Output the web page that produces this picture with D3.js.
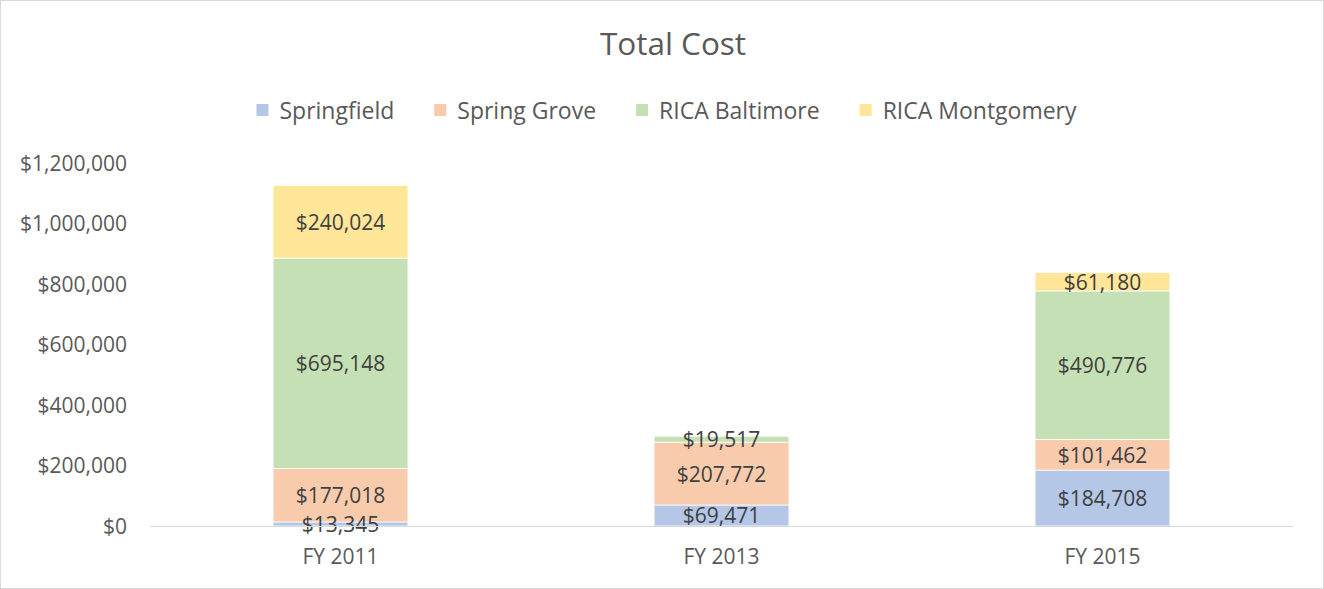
<!DOCTYPE html>
<html><head><meta charset="utf-8">
<script src="https://cdn.jsdelivr.net/npm/d3@7"></script>
<style>body{margin:0;background:#fff}svg{display:block}text{font-family:"Open Sans",sans-serif}</style>
</head><body>
<svg id="c" width="1324" height="589"></svg>
<script>
const categories = ["FY 2011", "FY 2013", "FY 2015"];
const seriesNames = ["Springfield", "Spring Grove", "RICA Baltimore", "RICA Montgomery"];
const springfield = [13345, 69471, 184708];
const springGrove = [177018, 207772, 101462];
const ricaBaltimore = [695148, 19517, 490776];
const ricaMontgomery = [240024, 0, 61180];
const yTicks = [0, 200000, 400000, 600000, 800000, 1000000, 1200000];
const colors = ["#B4C7E7", "#F8CBAD", "#C5E0B4", "#FFE699"];

const seriesValues = [springfield, springGrove, ricaBaltimore, ricaMontgomery];
const rows = categories.map((c, i) => {
  const r = {cat: c};
  seriesNames.forEach((s, j) => r[s] = seriesValues[j][i]);
  return r;
});

const svg = d3.select("#c");
const W = 1324, H = 589;
svg.append("rect").attr("x", 0.5).attr("y", 0.5).attr("width", W - 1).attr("height", H - 1)
  .attr("fill", "#fff").attr("stroke", "#d9d9d9");

const x = d3.scaleBand().domain(categories).range([150, 1293]).paddingInner(0.646).paddingOuter(0.323);
const y = d3.scaleLinear().domain([0, 1200000]).range([526, 163]);

const stack = d3.stack().keys(seriesNames)(rows);
const fmt = v => "$" + d3.format(",")(v);

// bars
const g = svg.append("g");
stack.forEach((layer, j) => {
  g.selectAll(null).data(layer.filter(d => d[1] - d[0] > 0)).join("rect")
    .attr("x", d => x(d.data.cat))
    .attr("width", x.bandwidth())
    .attr("y", d => y(d[1]))
    .attr("height", d => y(d[0]) - y(d[1]))
    .attr("fill", colors[j])
    .attr("stroke", "#fff").attr("stroke-width", 0.75);
});

// axis line
svg.append("line").attr("x1", 150).attr("x2", 1293).attr("y1", y(0) + 0.5).attr("y2", y(0) + 0.5)
  .attr("stroke", "#d9d9d9").attr("stroke-width", 1.2);

// labels
stack.forEach((layer, j) => {
  g.selectAll(null).data(layer.filter(d => d[1] - d[0] > 0)).join("text")
    .attr("x", d => x(d.data.cat) + x.bandwidth() / 2)
    .attr("y", d => (y(d[0]) + y(d[1])) / 2)
    .attr("text-anchor", "middle").attr("dominant-baseline", "central")
    .attr("font-size", 21).attr("fill", "#404040")
    .text(d => fmt(d[1] - d[0]));
});

// y axis labels
const yAxis = d3.axisLeft(y).tickValues(yTicks).tickFormat(d => fmt(d)).tickSize(0).tickPadding(0);
const ya = svg.append("g").attr("transform", "translate(127,0)").call(yAxis);
ya.select(".domain").remove();
ya.selectAll("text").attr("font-size", 21).attr("fill", "#595959").attr("font-family", "Open Sans, sans-serif").attr("dy", "0.35em");

// x axis labels
const xAxis = d3.axisBottom(x).tickSize(0).tickPadding(0);
const xa = svg.append("g").attr("transform", "translate(0,557)").call(xAxis);
xa.select(".domain").remove();
xa.selectAll("text").attr("font-size", 21).attr("fill", "#595959").attr("font-family", "Open Sans, sans-serif").attr("dy", "0.35em");

// title
svg.append("text").attr("x", 673).attr("y", 42).attr("text-anchor", "middle").attr("dominant-baseline", "central")
  .attr("font-size", 31.5).attr("fill", "#595959").text("Total Cost");

// legend
const leg = svg.append("g");
let lx = 0;
seriesNames.forEach((s, j) => {
  const it = leg.append("g").attr("transform", `translate(${lx},0)`);
  it.append("rect").attr("x", 0).attr("y", -6).attr("width", 12).attr("height", 12).attr("fill", colors[j]);
  const t = it.append("text").attr("x", 23).attr("y", 0).attr("dominant-baseline", "central")
    .attr("font-size", 23).attr("fill", "#595959").text(s);
  lx += 23 + t.node().getComputedTextLength() + 40;
});
const legW = lx - 40;
leg.attr("transform", `translate(${(258 + 1075) / 2 - legW / 2},110)`);
</script>
</body></html>
